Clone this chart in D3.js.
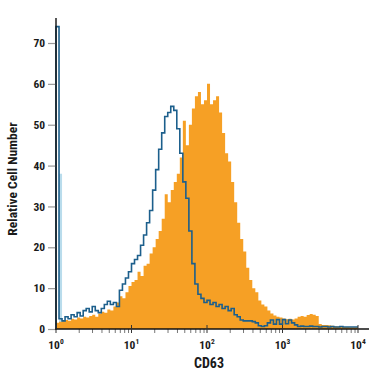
<!DOCTYPE html>
<html><head><meta charset="utf-8">
<script src="https://cdn.jsdelivr.net/npm/d3@7"></script>
<style>
html,body{margin:0;padding:0;background:#fff;}
svg{display:block;}
text{font-family:"Liberation Sans Narrow","Roboto Condensed","Arial Narrow",sans-serif;font-weight:bold;fill:#1a1a1a;}
</style></head>
<body><svg id="c" width="375" height="375"></svg>
<script>
// Histogram: 100 log-spaced bins from 10^0 to 10^4
const decades = [1, 10, 100, 1000, 10000];
const yTicks = [0, 10, 20, 30, 40, 50, 60, 70];
const xLabel = "CD63";
const yLabel = "Relative Cell Number";

// CD63 stained (orange, filled)
const stained = [
 1.5,1.8,2.0,2.2,2.0, 2.5,2.3,2.8,2.6,3.0,
 2.8,3.2,3.5,3.0,3.8, 4.2,4.0,4.8,4.5,5.5,
 6.5,8.0,7.5,9.0,10.5, 11.5,12.0,14.0,13.0,15.5,
 16.0,18.5,20.0,22.0,24.0, 27.0,33.0,31.0,34.0,36.0,
 38.0,42.0,51.0,45.0,50.0, 54.0,57.0,58.0,55.0,56.0,
 60.0,55.0,56.0,57.0,53.0, 48.0,43.0,41.0,36.0,31.0,
 26.0,22.0,19.0,15.0,12.0, 10.0,9.0,7.0,6.0,5.5,
 4.5,3.8,3.3,3.0,2.8, 2.6,2.4,2.5,2.3,2.6,
 3.0,3.2,3.0,3.4,3.7, 3.5,3.2,1.2,1.0,1.0,
 0.9,0.8,0.7,0.6,0.6, 0.5,0.5,0.4,0.4,0.4
];
// Isotype control (blue outline)
const isotype = [
 74,2.5,2.0,3.0,2.5, 3.5,3.0,4.0,3.2,4.5,
 5.0,4.2,5.5,4.5,4.0, 5.0,6.0,6.8,6.0,6.5,
 5.5,9.5,11.0,12.5,14.0, 16.0,17.0,18.0,20.5,23.0,
 26.0,29.0,34.0,39.0,44.0, 48.0,52.0,53.0,54.5,53.5,
 49.0,43.0,36.0,32.0,24.0, 16.0,11.0,8.5,7.5,6.5,
 7.0,6.0,6.5,5.5,6.0, 5.0,5.5,4.5,5.0,3.5,
 3.0,2.2,2.0,2.0,2.0, 1.8,1.5,0.8,0.6,0.8,
 1.5,2.2,1.2,2.3,1.2, 2.3,1.3,2.2,1.5,1.0,
 0.6,0.7,0.6,0.6,0.7, 0.6,0.6,0.5,0.6,0.6,
 0.5,0.6,0.5,0.5,0.6, 0.5,0.5,0.5,0.5,0.5
];
// pale shoulder of the first isotype channel
const isotypeShade = [0, 38];

const svg = d3.select("#c");
const x = d3.scaleLog().domain([1, 10000]).range([56, 358]);
const y = d3.scaleLinear().domain([0, 76]).range([329, 18.5]);

const nBins = stained.length;
const edges = d3.range(nBins + 1).map(i => Math.pow(10, 4 * i / nBins));
const stepPts = vals => vals.map((v, i) => [edges[i], v]).concat([[edges[nBins], vals[nBins - 1]]]);

// pale shade
svg.append("g").selectAll("rect").data(isotypeShade).join("rect")
  .attr("x", (d, i) => x(edges[i]))
  .attr("width", (d, i) => x(edges[i + 1]) - x(edges[i]))
  .attr("y", d => y(d)).attr("height", d => y(0) - y(d))
  .attr("fill", "#b9dcec");

// orange area
const area = d3.area().curve(d3.curveStepAfter)
  .x(d => x(d[0])).y0(y(0)).y1(d => y(d[1]));
svg.append("path").datum(stepPts(stained))
  .attr("d", area).attr("fill", "#f6a025");

// blue outline
const line = d3.line().curve(d3.curveStepAfter).x(d => x(d[0])).y(d => y(d[1]));
const bluePts = [[edges[0], 0]].concat(stepPts(isotype));
svg.append("path").datum(bluePts)
  .attr("d", line).attr("fill", "none")
  .attr("stroke", "#1c5f8c").attr("stroke-width", 1.6);

// Y axis
const gy = svg.append("g").attr("transform", "translate(56,0)");
gy.call(d3.axisLeft(y).tickValues(yTicks).tickSize(8).tickPadding(3));
gy.select(".domain").remove();
gy.selectAll(".tick line").attr("stroke", "#999").attr("stroke-width", 1.2);
gy.selectAll(".tick text").style("font-size", "11.5px");
svg.append("line").attr("x1", 56).attr("x2", 56).attr("y1", 18).attr("y2", 330)
  .attr("stroke", "#111").attr("stroke-width", 1.4);

// X axis
const minor = [];
decades.slice(0, -1).forEach(d => { for (let k = 2; k <= 9; k++) minor.push(d * k); });
const gx = svg.append("g").attr("transform", "translate(0,329)");
gx.call(d3.axisBottom(x).tickValues(minor).tickSize(4).tickFormat(""));
gx.select(".domain").remove();
gx.selectAll(".tick line").attr("stroke", "#777");
svg.append("line").attr("x1", 55).attr("x2", 369).attr("y1", 329).attr("y2", 329)
  .attr("stroke", "#111").attr("stroke-width", 1.4);
svg.selectAll(".maj").data(decades).join("line").attr("class", "maj")
  .attr("x1", d => x(d)).attr("x2", d => x(d)).attr("y1", 325).attr("y2", 333)
  .attr("stroke", "#333").attr("stroke-width", 1);

const lab = svg.append("g").selectAll("text").data(decades).join("text")
  .attr("x", d => x(d)).attr("y", 349).attr("text-anchor", "middle")
  .style("font-size", "11.5px");
lab.append("tspan").text("10");
lab.append("tspan").attr("dy", -5).style("font-size", "7.5px").text(d => Math.round(Math.log10(d)));

svg.append("text").attr("x", 209).attr("y", 368).attr("text-anchor", "middle")
  .style("font-size", "14px").text(xLabel);
svg.append("text").attr("transform", "translate(17,179) rotate(-90)")
  .attr("text-anchor", "middle").style("font-size", "13.5px").text(yLabel);
</script></body></html>
